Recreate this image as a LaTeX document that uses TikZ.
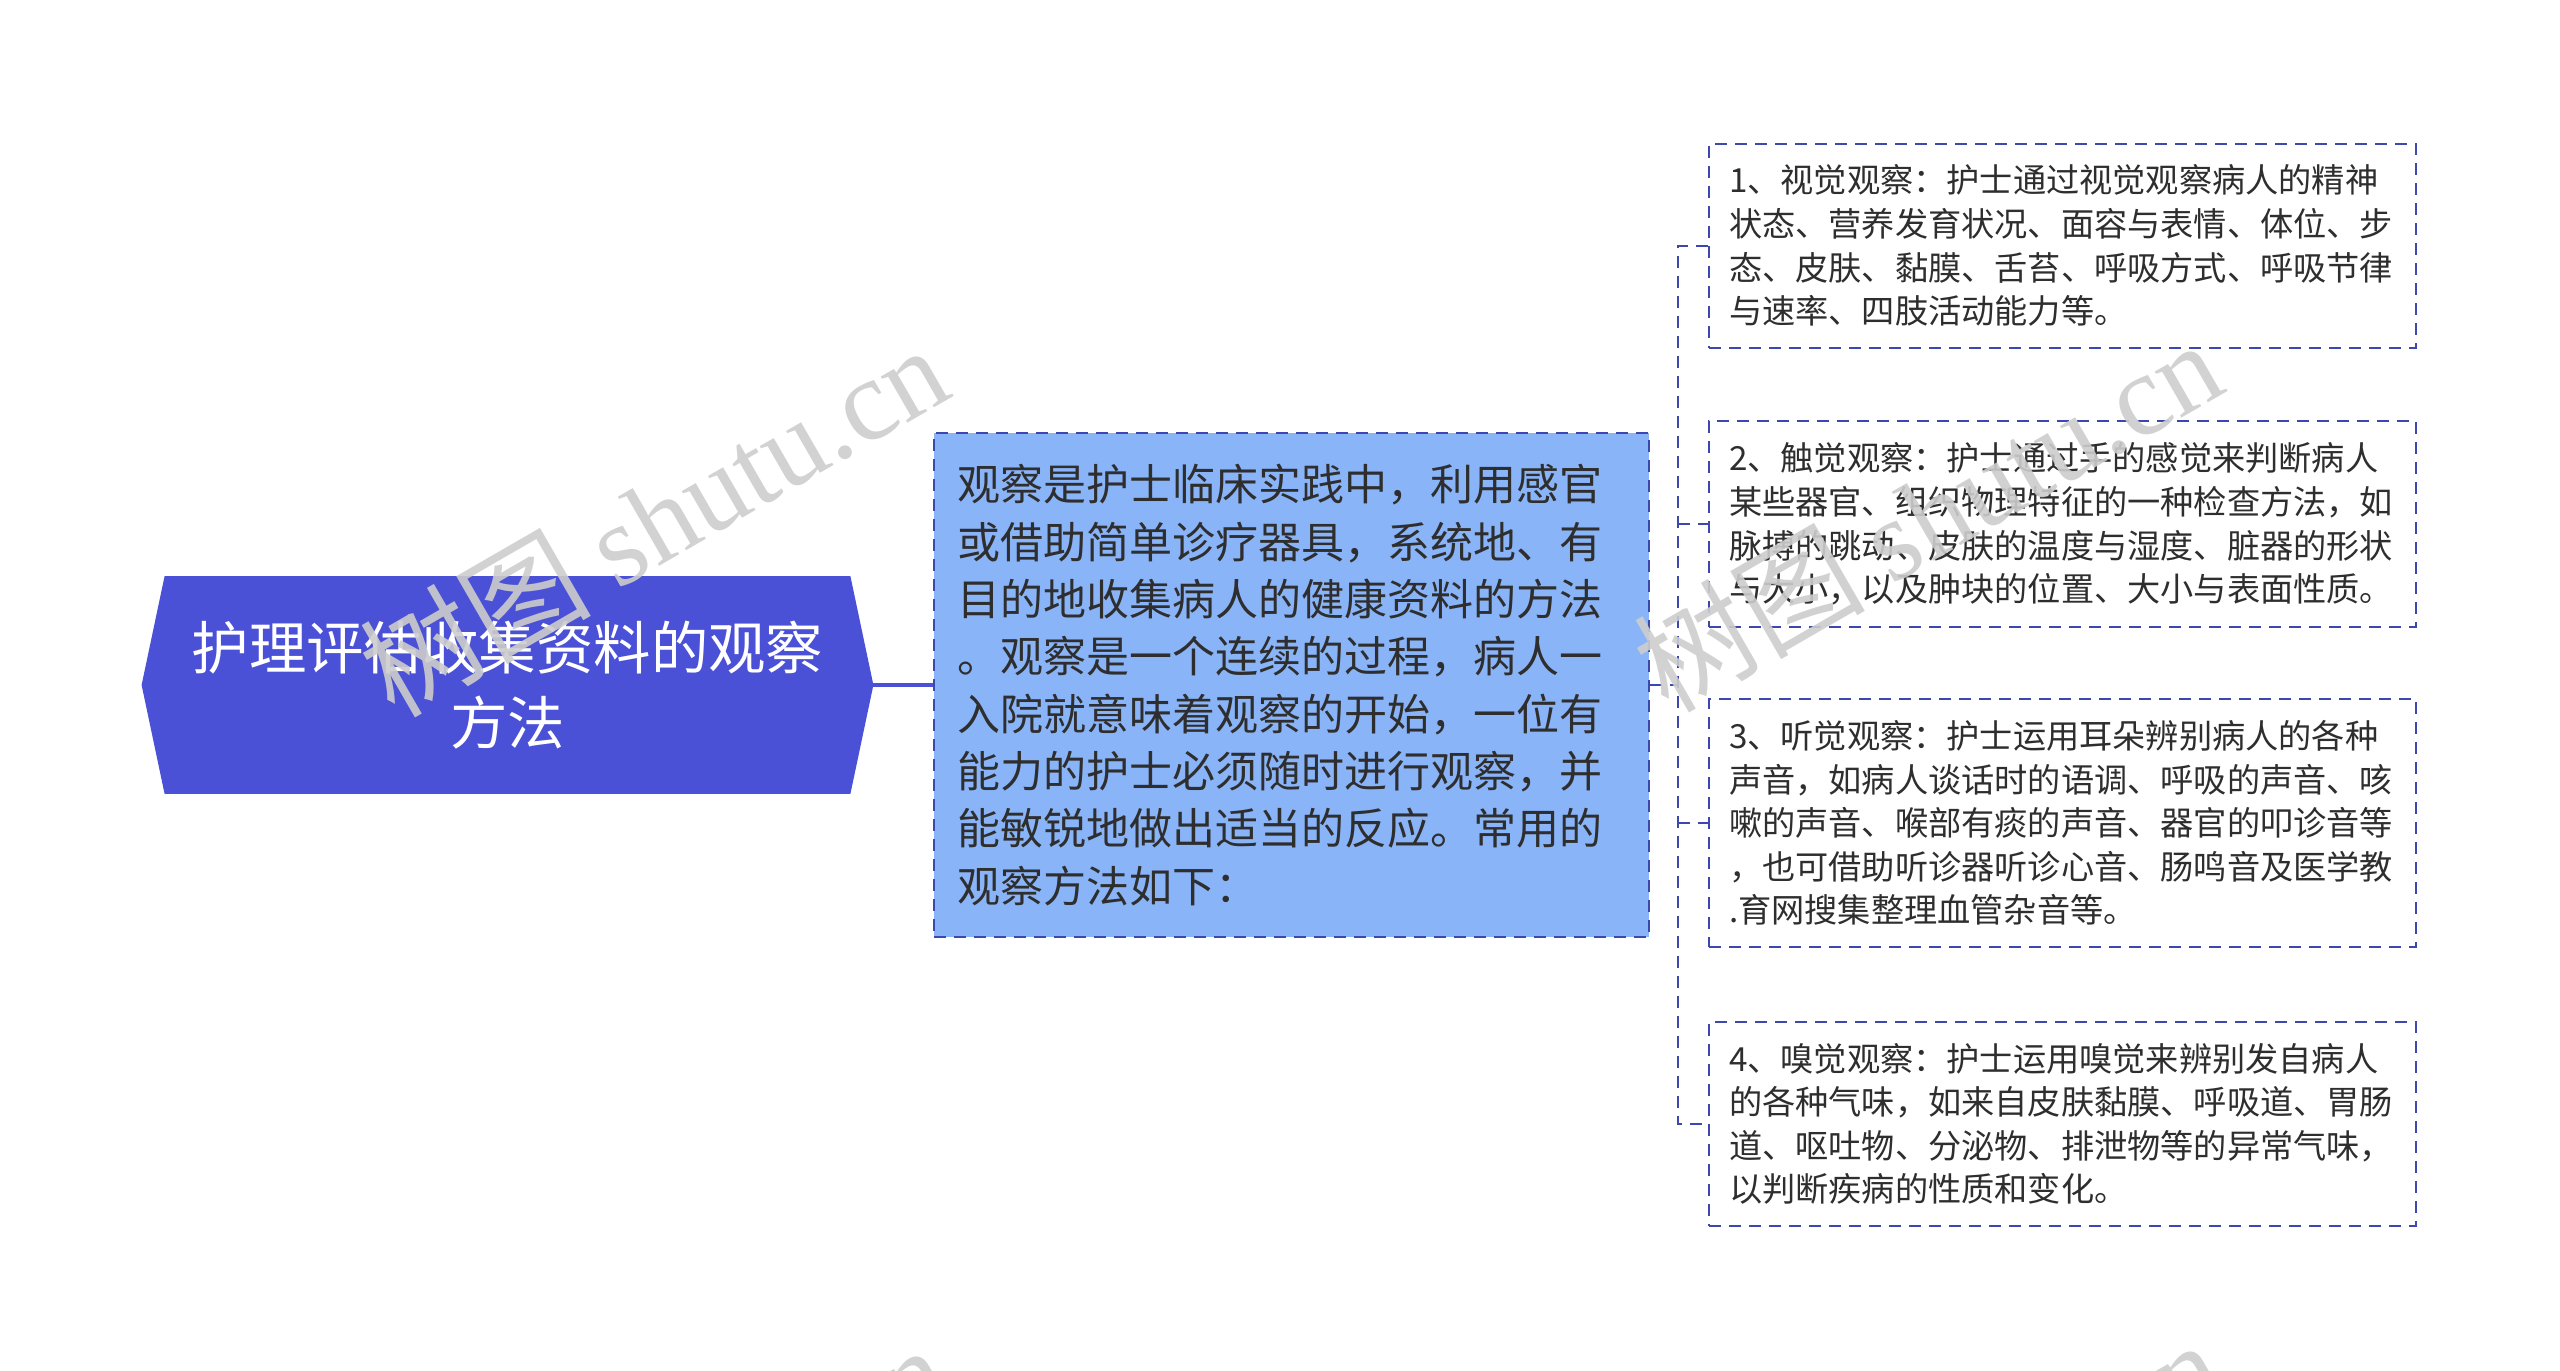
\documentclass[tikz,border=0pt]{standalone}
\usepackage{fontspec}
\setmainfont{Noto Sans CJK SC}
\newfontfamily\wmserif{Liberation Serif}
\usetikzlibrary{backgrounds,calc}
\definecolor{rootblue}{HTML}{4A51D6}
\definecolor{midblue}{HTML}{8AB4F8}
\definecolor{edgeblue}{HTML}{3C48AE}
\definecolor{txtc}{HTML}{2E2E2E}
\definecolor{wmc}{HTML}{CDCDCD}
\begin{document}
\begin{tikzpicture}[x=0.5pt,y=-0.5pt,
  dline/.style={draw=edgeblue, line width=1.2pt, dash pattern=on 6pt off 4pt},
  leafbox/.style={dline, fill=white, minimum width=353.5pt, inner xsep=10pt, inner ysep=0pt,
    text width=333.5pt, align=left, text=txtc, font=\fontsize{16.6pt}{21.8pt}\selectfont},
  midbox/.style={dline, fill=midblue, minimum width=357.5pt, minimum height=252pt, inner xsep=11.5pt,
    text width=334.5pt, align=left, text=txtc, font=\fontsize{21.5pt}{28.65pt}\selectfont},
  rootbox/.style={minimum width=365.5pt, minimum height=108.5pt, inner sep=0pt, align=center,
    text=white, font=\fontsize{28.7pt}{37.5pt}\selectfont},
  wmark/.style={text=wmc, text opacity=0.9, rotate=30, inner sep=0pt, font=\fontsize{58pt}{60pt}\selectfont}
]
\useasboundingbox (0,0) rectangle (2560,1371);
\clip (0,0) rectangle (2560,1371);

% root
\node[rootbox] (root) at (507.5,685) {护理评估收集资料的观察\\方法};
\begin{pgfonlayer}{background}
\fill[rootblue] ($(root.north west)+(11.5pt,0)$) -- ($(root.north east)+(-11.5pt,0)$) -- (root.east)
  -- ($(root.south east)+(-11.5pt,0)$) -- ($(root.south west)+(11.5pt,0)$) -- (root.west) -- cycle;
\end{pgfonlayer}

% middle
\node[midbox] (mid) at (1291.5,685) {观察是护士临床实践中，利用感官\\或借助简单诊疗器具，系统地、有\\目的地收集病人的健康资料的方法\\。观察是一个连续的过程，病人一\\入院就意味着观察的开始，一位有\\能力的护士必须随时进行观察，并\\能敏锐地做出适当的反应。常用的\\观察方法如下：};

% leaves
\node[leafbox, minimum height=102pt] (n1) at (2062.5,245.75) {1、视觉观察：护士通过视觉观察病人的精神\\状态、营养发育状况、面容与表情、体位、步\\态、皮肤、黏膜、舌苔、呼吸方式、呼吸节律\\与速率、四肢活动能力等。};
\node[leafbox, minimum height=103pt] (n2) at (2062.5,524) {2、触觉观察：护士通过手的感觉来判断病人\\某些器官、组织物理特征的一种检查方法，如\\脉搏的跳动、皮肤的温度与湿度、脏器的形状\\与大小，以及肿块的位置、大小与表面性质。};
\node[leafbox, minimum height=124pt] (n3) at (2062.5,823) {3、听觉观察：护士运用耳朵辨别病人的各种\\声音，如病人谈话时的语调、呼吸的声音、咳\\嗽的声音、喉部有痰的声音、器官的叩诊音等\\，也可借助听诊器听诊心音、肠鸣音及医学教\\.育网搜集整理血管杂音等。};
\node[leafbox, minimum height=102pt] (n4) at (2062.5,1124) {4、嗅觉观察：护士运用嗅觉来辨别发自病人\\的各种气味，如来自皮肤黏膜、呼吸道、胃肠\\道、呕吐物、分泌物、排泄物等的异常气味，\\以判断疾病的性质和变化。};

% connectors
\draw[rootblue, line width=1.6pt] (root.east) -- (mid.west);
\coordinate (tr) at (1678,685);
\draw[dline] (mid.east) -- (tr);
\draw[dline] (n1.west) -| (tr) |- (n4.west);
\draw[dline] (n2.west -| tr) -- (n2.west);
\draw[dline] (n3.west -| tr) -- (n3.west);

% watermarks
\node[wmark] (wm1) at (653,519) {树图 {\wmserif shutu.cn}};
\node[wmark] (wm2) at (1927,514) {树图 {\wmserif shutu.cn}};
\node[wmark] (wm3) at (653,1519) {树图 {\wmserif shutu.cn}};
\node[wmark] (wm4) at (1927,1514) {树图 {\wmserif shutu.cn}};
\end{tikzpicture}
\end{document}
